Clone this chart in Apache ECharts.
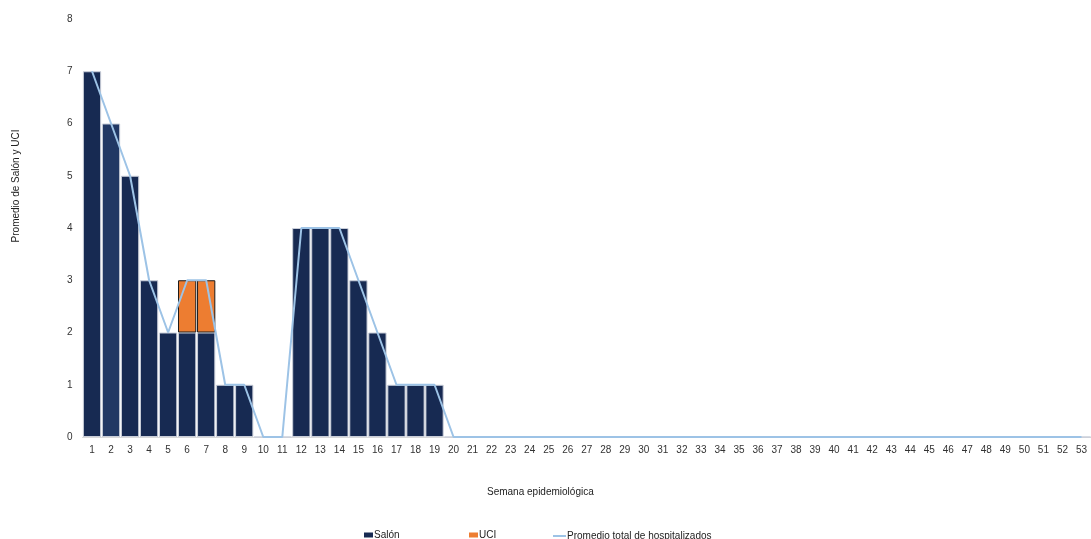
<!DOCTYPE html>
<html>
<head>
<meta charset="utf-8">
<script src="https://cdn.jsdelivr.net/npm/echarts@6/dist/echarts.min.js"></script>
<style>html,body{margin:0;padding:0;background:#fff}#c{width:1091px;height:539px}</style>
</head>
<body>
<div id="c"></div>
<script>
var weeks = [];
for (var i = 1; i <= 53; i++) weeks.push(String(i));
var salon = [7,6,5,3,2,2,2,1,1,0,0,4,4,4,3,2,1,1,1,0,0,0,0,0,0,0,0,0,0,0,0,0,0,0,0,0,0,0,0,0,0,0,0,0,0,0,0,0,0,0,0,0,0];
var uci   = [0,0,0,0,0,1,1,0,0,0,0,0,0,0,0,0,0,0,0,0,0,0,0,0,0,0,0,0,0,0,0,0,0,0,0,0,0,0,0,0,0,0,0,0,0,0,0,0,0,0,0,0,0];
var promedio = [7,6,5,3,2,3,3,1,1,0,0,4,4,4,3,2,1,1,1,0,0,0,0,0,0,0,0,0,0,0,0,0,0,0,0,0,0,0,0,0,0,0,0,0,0,0,0,0,0,0,0,0,0];
var yTicks = [0,1,2,3,4,5,6,7,8];

var FONT = 'Liberation Sans, Arial, sans-serif';
var chart = echarts.init(document.getElementById('c'), null, {renderer:'canvas'});
var salonData = salon.map(function(v, i){
  return i === 1 ? {value: v, itemStyle:{color:'#213864'}} : v;
});
var uciData = uci.map(function(v){ return v === 0 ? '-' : v; });
var legText = {fontSize:10, color:'#222', fontFamily:FONT, padding:[0,0,0,-4]};
chart.setOption({
  animation: false,
  textStyle: {fontFamily: FONT},
  grid: {left: 82.5, right: -0.5, top: 19, bottom: 102, containLabel: false},
  legend: [
    {data:[{name:'Salón', icon:'rect', itemStyle:{color:'#172a52', borderWidth:0}}], left: 364, top: 530, itemWidth: 9, itemHeight: 5, itemGap: 0,
     textStyle: legText, padding:0},
    {data:[{name:'UCI', icon:'rect', itemStyle:{color:'#ed7d31', borderWidth:0}}], left: 469, top: 530, itemWidth: 9, itemHeight: 5, itemGap: 0,
     textStyle: legText, padding:0},
    {data:[{name:'Promedio total de hospitalizados', icon:'rect', itemStyle:{color:'#9dc3e6', borderWidth:0}}], left: 553, top: 531, itemWidth: 13, itemHeight: 2, itemGap: 0,
     textStyle: legText, padding:0}
  ],
  xAxis: {
    type: 'category',
    data: weeks,
    axisLine: {show: true, lineStyle: {color: '#d9d9d9', width: 1}},
    axisTick: {show: false},
    axisLabel: {color: '#333', fontSize: 10, fontFamily: FONT, margin: 8, interval: 0}
  },
  yAxis: {
    type: 'value',
    min: 0, max: 8, interval: 1,
    axisLine: {show: false},
    axisTick: {show: false},
    splitLine: {show: false},
    axisLabel: {color: '#333', fontSize: 10, fontFamily: FONT, margin: 10,
      formatter: function(v){ return yTicks.indexOf(v) >= 0 ? String(v) : ''; }}
  },
  graphic: [
    {type:'text', left: 537 - 50, top: 487, style:{text:'Semana epidemiológica', fill:'#222', font:'10px ' + FONT}},
    {type:'text', x: 16, y: 186, rotation: Math.PI/2, style:{text:'Promedio de Salón y UCI', fill:'#222', font:'10px ' + FONT, align:'center', verticalAlign:'middle'}}
  ],
  series: [
    {name:'Salón', type:'bar', stack:'a', data: salonData, barCategoryGap:'4%',
     itemStyle:{color:'#172a52', borderColor:'#c9ced9', borderWidth:1}},
    {name:'UCI', type:'bar', stack:'a', data: uciData, barCategoryGap:'4%',
     itemStyle:{color:'#ed7d31', borderColor:'#1a1a1a', borderWidth:1}},
    {name:'Promedio total de hospitalizados', type:'line', data: promedio, symbol:'none',
     lineStyle:{color:'#9dc3e6', width:2}, itemStyle:{color:'#9dc3e6'}, z: 5}
  ]
});
</script>
</body>
</html>
